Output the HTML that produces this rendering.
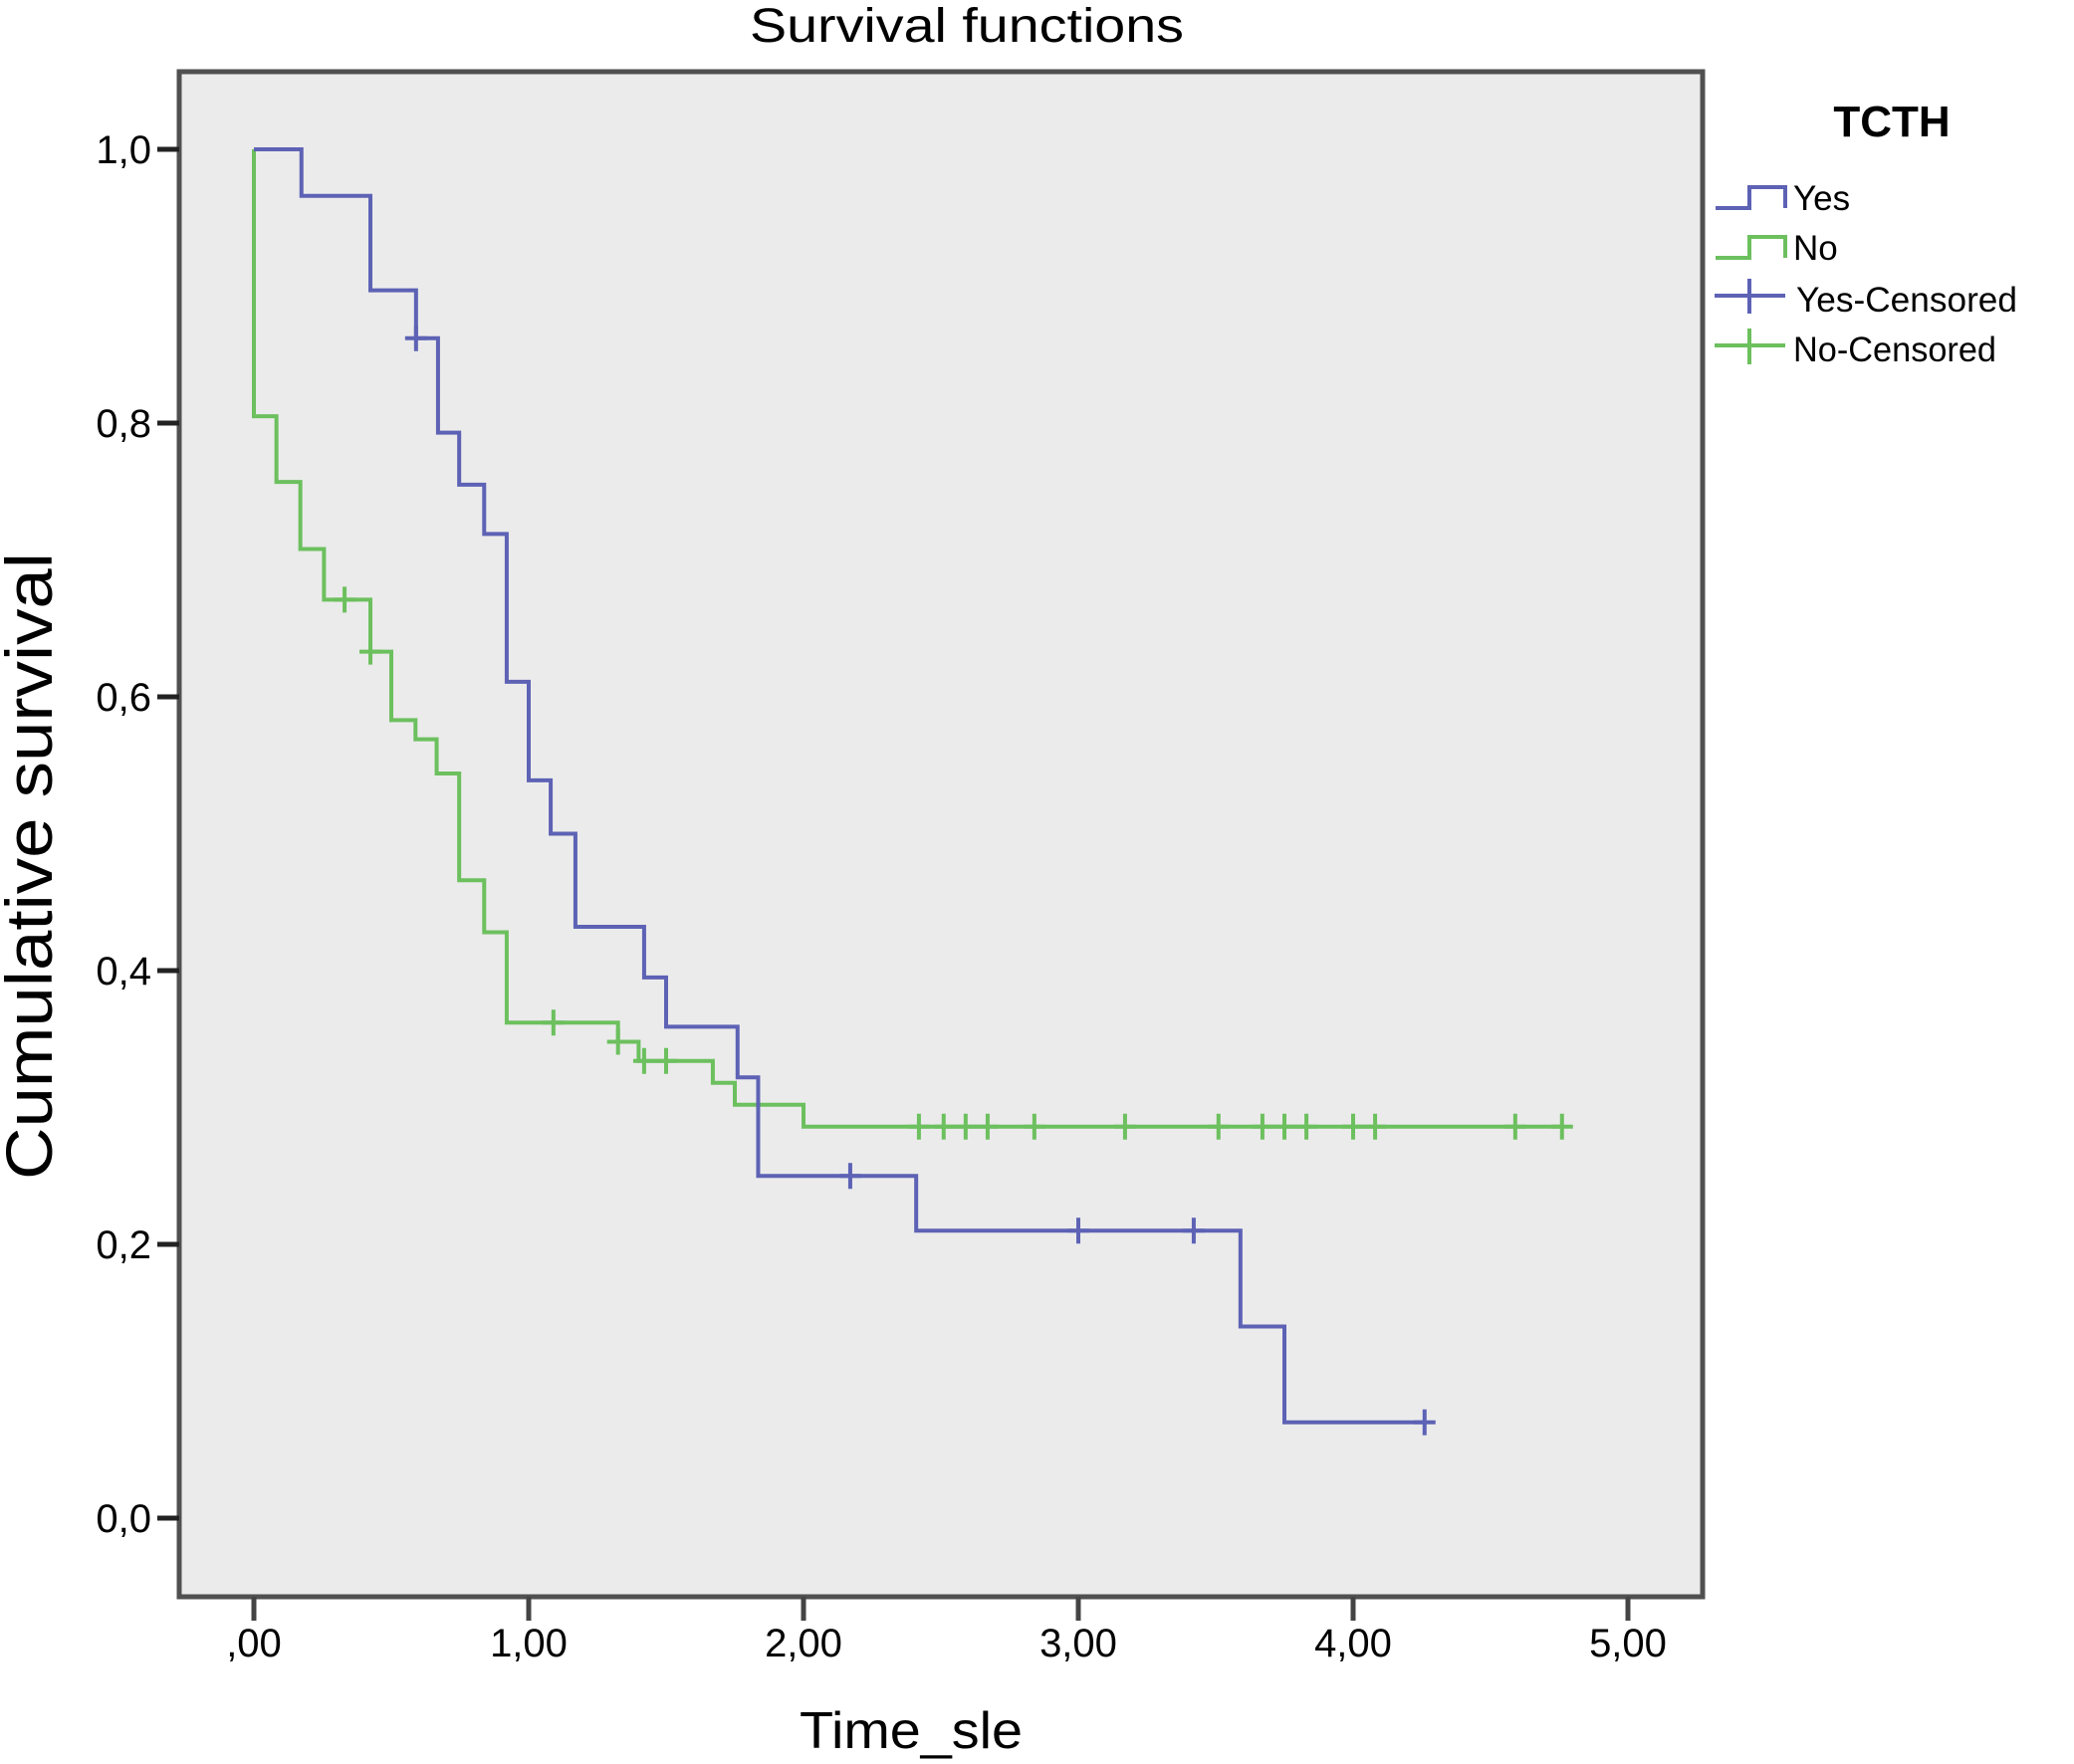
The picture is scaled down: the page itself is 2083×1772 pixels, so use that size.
<!DOCTYPE html>
<html><head><meta charset="utf-8"><style>
html,body{margin:0;padding:0;background:#fff;}
svg{display:block;font-family:"Liberation Sans",Arial,sans-serif;}
</style></head><body>
<svg id="chart" width="2083" height="1772" viewBox="0 0 2083 1772" xmlns="http://www.w3.org/2000/svg">
<text x="971" y="42" font-size="48" text-anchor="middle" textLength="436" lengthAdjust="spacingAndGlyphs">Survival functions</text>
<rect x="180" y="72" width="1530" height="1532" fill="#ebebeb" stroke="#505050" stroke-width="5"/>
<g id="yticks"></g>
<g id="xticks"></g>
<g id="series"></g>
<text transform="translate(52,870) rotate(-90)" font-size="66" text-anchor="middle" textLength="630" lengthAdjust="spacingAndGlyphs">Cumulative survival</text>
<text x="915" y="1756" font-size="52" text-anchor="middle" textLength="224" lengthAdjust="spacingAndGlyphs">Time_sle</text>
<g>
<text x="1900" y="137" font-size="44" font-weight="bold" text-anchor="middle">TCTH</text>
<g>
<path d="M1723 209 H1757 V188 H1793 V209" fill="none" stroke="#5d62b5" stroke-width="4"/>
<text x="1801" y="211" font-size="35">Yes</text></g>
<g>
<path d="M1723 259 H1757 V238 H1793 V259" fill="none" stroke="#6cc05e" stroke-width="4"/>
<text x="1801" y="261" font-size="35">No</text></g>
<g>
<path d="M1722 297 H1793 M1757 280 V315" fill="none" stroke="#5d62b5" stroke-width="4"/>
<text x="1804" y="313" font-size="35" textLength="222" lengthAdjust="spacingAndGlyphs">Yes-Censored</text></g>
<g>
<path d="M1722 347 H1793 M1757 330 V366" fill="none" stroke="#6cc05e" stroke-width="4"/>
<text x="1801" y="363" font-size="35" textLength="204" lengthAdjust="spacingAndGlyphs">No-Censored</text></g>
</g>
</svg>
<script>
const yTickValues=[0,0.2,0.4,0.6,0.8,1.0];
const yTickLabels=["0,0","0,2","0,4","0,6","0,8","1,0"];
const xTickValues=[0,1,2,3,4,5];
const xTickLabels=[",00","1,00","2,00","3,00","4,00","5,00"];
const yesTimes=[0,0.173,0.424,0.59,0.67,0.747,0.838,0.92,1.0,1.08,1.17,1.42,1.50,1.76,1.835,2.41,3.59,3.75];
const yesSurv=[1.0,0.966,0.897,0.862,0.793,0.755,0.719,0.611,0.539,0.50,0.432,0.395,0.359,0.322,0.25,0.21,0.14,0.07];
const yesEnd=4.26;
const yesCensor=[0.59,2.17,3.0,3.42,4.26];
const noTimes=[0,0.082,0.169,0.255,0.424,0.50,0.588,0.665,0.747,0.838,0.92,1.325,1.40,1.67,1.75,2.0];
const noSurv=[0.805,0.757,0.708,0.671,0.633,0.583,0.569,0.544,0.466,0.428,0.362,0.348,0.334,0.318,0.302,0.286];
const noEnd=4.76;
const noCensor=[0.33,0.424,1.09,1.325,1.42,1.50,2.42,2.51,2.59,2.67,2.84,3.17,3.51,3.67,3.75,3.83,4.00,4.08,4.59,4.76];

const NS="http://www.w3.org/2000/svg";
function X(t){return 255+t*276;}
function Y(v){return 1525-v*1375;}
function mk(tag,attrs,parent){const e=document.createElementNS(NS,tag);for(const k in attrs)e.setAttribute(k,attrs[k]);parent.appendChild(e);return e;}
const yt=document.getElementById('yticks'),xt=document.getElementById('xticks'),sg=document.getElementById('series');
yTickValues.forEach((v,i)=>{
  const l=mk('line',{x1:158,x2:180,y1:Y(v),y2:Y(v),stroke:'#222','stroke-width':5},yt);
  
  
  const t=mk('text',{x:152,y:Y(v)+14,'font-size':40,'text-anchor':'end'},yt);
  t.textContent=yTickLabels[i];
  
  
});
xTickValues.forEach((v,i)=>{
  const l=mk('line',{x1:X(v),x2:X(v),y1:1604,y2:1628,stroke:'#444','stroke-width':5},xt);
  
  
  const t=mk('text',{x:X(v),y:1664,'font-size':40,'text-anchor':'middle'},xt);
  t.textContent=xTickLabels[i];
  
  
});
function survAt(times,surv,start,t){let v=start;for(let i=0;i<times.length;i++){if(times[i]<=t+1e-9)v=surv[i];}return v;}
function drawSeries(times,surv,start,end,censor,color,name){
  let d='M'+X(0)+' '+Y(start);
  for(let i=0;i<times.length;i++){d+=' H'+X(times[i])+' V'+Y(surv[i]);}
  d+=' H'+X(end);
  const p=mk('path',{d:d,fill:'none',stroke:color,'stroke-width':4},sg);
  
  
  censor.forEach(c=>{
    const y=Y(survAt(times,surv,start,c));
    const m=mk('path',{d:'M'+(X(c)-11)+' '+y+' H'+(X(c)+11)+' M'+X(c)+' '+(y-13)+' V'+(y+13),stroke:color,'stroke-width':4,fill:'none'},sg);
    
    
  });
}
drawSeries(noTimes,noSurv,1.0,noEnd,noCensor,'#6cc05e','no');
drawSeries(yesTimes,yesSurv,1.0,yesEnd,yesCensor,'#5d62b5','yes');
</script>
</body></html>
